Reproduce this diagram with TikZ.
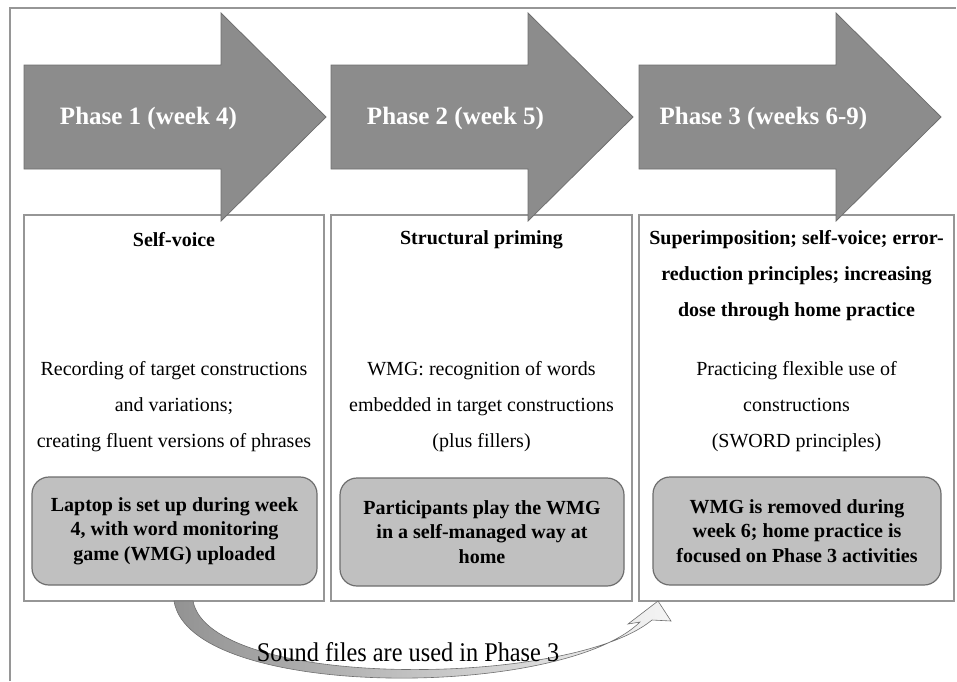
\documentclass[tikz,border=0pt]{standalone}
\usepackage{fontspec}
\setmainfont{Liberation Serif}
\usetikzlibrary{calc}
\definecolor{arrowgray}{HTML}{8C8C8C}
\definecolor{edgegray}{HTML}{6E6E6E}
\definecolor{boxgray}{HTML}{969696}
\definecolor{notegray}{HTML}{C0C0C0}

\begin{document}
\begin{tikzpicture}[x=1pt, y=-1pt,
  phasebox/.style={rectangle, draw=boxgray, line width=1.5pt, fill=white, inner sep=0pt, outer sep=0pt, minimum height=386pt},
  notebox/.style={rectangle, rounded corners=17pt, draw=edgegray, line width=1.2pt, fill=notegray, inner sep=0pt, outer sep=0pt, minimum height=108pt, align=center, font=\bfseries\fontsize{20}{24.5}\selectfont},
  headtext/.style={align=center, inner sep=0pt, font=\bfseries\fontsize{20}{36}\selectfont},
  bodytext/.style={align=center, inner sep=0pt, font=\fontsize{20}{36}\selectfont},
  phasearrow/.style={fill=arrowgray, draw=edgegray, line width=0.8pt},
  phaselabel/.style={text=white, inner sep=0pt, font=\bfseries\fontsize{25}{30}\selectfont}]
\useasboundingbox (0,0) rectangle (957,681);

% outer frame
\draw[boxgray, line width=1.5pt] (10,681) -- (10,8) -- (956,8);

% phase columns
\node[phasebox, minimum width=300pt] (box1) at (174,408) {};
\node[phasebox, minimum width=301pt] (box2) at (481.5,408) {};
\node[phasebox, minimum width=315pt] (box3) at (796.5,408) {};

\node[headtext] (head1) at (174,240) {Self-voice};
\node[headtext] (head2) at (481.5,240) {Structural priming};
\node[headtext] (head3) at (796.5,276) {Superimposition; self-voice; error-\\reduction principles; increasing\\dose through home practice};

\node[bodytext] (body1) at (174,407) {Recording of target constructions\\and variations;\\creating fluent versions of phrases};
\node[bodytext] (body2) at (481.5,407) {WMG: recognition of words\\embedded in target constructions\\(plus fillers)};
\node[bodytext] (body3) at (796.5,407) {Practicing flexible use of\\constructions\\(SWORD principles)};

\node[notebox, minimum width=285pt] (note1) at (174.5,531) {Laptop is set up during week\\4, with word monitoring\\game (WMG) uploaded};
\node[notebox, minimum width=284pt] (note2) at (482,532) {Participants play the WMG\\in a self-managed way at\\home};
\node[notebox, minimum width=288pt] (note3) at (797,531) {WMG is removed during\\week 6; home practice is\\focused on Phase 3 activities};

% phase arrows
\foreach \x/\n/\t in {24/1/{Phase 1 (week 4)}, 331/2/{Phase 2 (week 5)}, 639/3/{Phase 3 (weeks 6-9)}} {
  \draw[phasearrow] (\x,65) -- ++(197,0) -- ++(0,-52) -- ++(105,104) -- ++(-105,104) -- ++(0,-52) -- ++(-197,0) -- cycle;
  \node[phaselabel] (phase\n) at (\x+124.5,118) {\t};
}

% sound files arrow from phase 1 to phase 3
\coordinate (sndfrom) at (box1.south);
\coordinate (sndto) at ($(box3.south west)+(19,0)$);
\draw[left color=gray!85, right color=gray!8, draw=edgegray, line width=0.6pt]
  (sndfrom) .. controls +(16,99) and +(-80,78) .. ($(sndto)+(-18,21)$)
  -- ($(sndto)+(-30,23)$) -- (sndto) -- ($(sndto)+(13,20)$) -- ($(sndto)+(-6,19)$)
  .. controls +(-82,68) and +(17,89) .. ($(sndfrom)+(19,0)$) -- cycle;
\node[inner sep=0pt, xscale=0.9, font=\fontsize{27}{30}\selectfont] (sndlabel) at (408,652) {Sound files are used in Phase 3};
\end{tikzpicture}
\end{document}
